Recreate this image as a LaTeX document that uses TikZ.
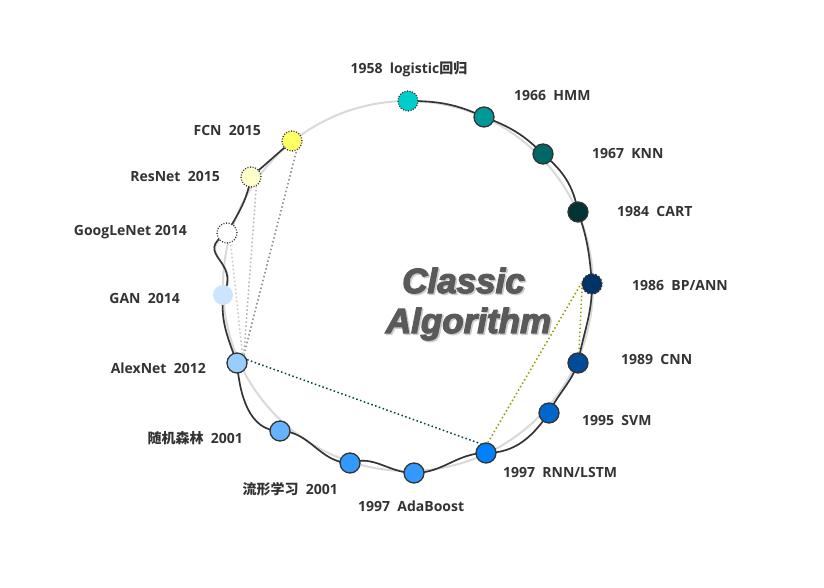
\documentclass[tikz,border=0pt]{standalone}
\usepackage{fontspec}
\newfontfamily\labfont{Open Sans}
\newfontfamily\cjkfont{Noto Sans CJK SC}
\newfontfamily\ttlfont{Liberation Sans}[FakeBold=3.5]
\definecolor{dark}{HTML}{333333}
\definecolor{txt}{HTML}{333333}
\definecolor{ringc}{HTML}{D9D9D9}
\definecolor{c58}{HTML}{00CCCC}
\definecolor{c66}{HTML}{009999}
\definecolor{c67}{HTML}{006666}
\definecolor{c84}{HTML}{003333}
\definecolor{c86}{HTML}{003366}
\definecolor{c89}{HTML}{004C99}
\definecolor{c95}{HTML}{0066CC}
\definecolor{c97r}{HTML}{0080FF}
\definecolor{c97a}{HTML}{3399FF}
\definecolor{c01m}{HTML}{3399FF}
\definecolor{c01r}{HTML}{66B2FF}
\definecolor{c12}{HTML}{99CCFF}
\definecolor{c14n}{HTML}{CCE5FF}
\definecolor{c15r}{HTML}{FFFFCC}
\definecolor{c15f}{HTML}{FFFF66}
\definecolor{tealc}{HTML}{004444}
\definecolor{olivec}{HTML}{999900}
\definecolor{ttlc}{HTML}{5A5A5A}
\tikzset{
  evt/.style={circle, minimum size=20pt, inner sep=0pt, draw=dark, line width=1.3pt},
  dotborder/.style={dash pattern=on 1pt off 1.6pt},
  dotline/.style={line width=1.5pt, dash pattern=on 1.5pt off 2.5pt},
  lab/.style={font=\labfont\bfseries\fontsize{14}{16}\selectfont, text=txt, inner sep=0pt, anchor=west},
  labl/.style={lab, anchor=east},
  ttl/.style={font=\ttlfont\bfseries\itshape\fontsize{35}{40}\selectfont, inner sep=0pt, anchor=base},
  timeline/.style={line width=1.6pt}
}
\begin{document}
\begin{tikzpicture}[x=1pt,y=1pt]
\useasboundingbox (0,0) rectangle (824,588);
\fill[white] (0,0) rectangle (824,588);
% ring
\draw[ringc, line width=2pt] (408,302) circle (185);
% node coordinates
\coordinate (p58) at (408,487);
\coordinate (p66) at (484,471);
\coordinate (p67) at (543,434);
\coordinate (p84) at (578,376);
\coordinate (p86) at (592,304);
\coordinate (p89) at (578,225);
\coordinate (p95) at (549,175);
\coordinate (p97r) at (486,135);
\coordinate (p97a) at (414,115);
\coordinate (p01m) at (350,125);
\coordinate (p01r) at (280,157);
\coordinate (p12) at (237,225);
\coordinate (p14n) at (223,293);
\coordinate (p14g) at (227,355);
\coordinate (p15r) at (251,411);
\coordinate (p15f) at (292,447);
% timeline path (shadow + line)
\foreach \col/\sh in {black!22/1.6, dark/0} {
\draw[timeline, \col, shift={(\sh,-\sh)}]
  (p58) to[out=0,in=155] (p66) to[out=-20,in=135] (p67) to[out=-40,in=100] (p84)
  to[out=-70,in=95] (p86) to[out=-90,in=80] (p89) to[out=-110,in=65] (p95)
  to[out=-125,in=0] (p97r) to[out=180,in=0] (p97a) to[out=180,in=20] (p01m)
  to[out=180,in=0] (p01r) to[out=180,in=-85] (p12) to[out=110,in=-95] (p14n)
  .. controls (242,328) and (192,333) .. (p14g) to[out=60,in=-100] (p15r) -- (p15f);
}
% nodes
\node[evt, fill=c58, dotborder] (n58) at (p58) {};
\node[evt, fill=c66] (n66) at (p66) {};
\node[evt, fill=c67] (n67) at (p67) {};
\node[evt, fill=c84] (n84) at (p84) {};
\node[evt, fill=c86, dash pattern=on 2pt off 1.5pt] (n86) at (p86) {};
\node[evt, fill=c89] (n89) at (p89) {};
\node[evt, fill=c95] (n95) at (p95) {};
\node[evt, fill=c97r] (n97r) at (p97r) {};
\node[evt, fill=c97a] (n97a) at (p97a) {};
\node[evt, fill=c01m] (n01m) at (p01m) {};
\node[evt, fill=c01r] (n01r) at (p01r) {};
\node[evt, fill=c12] (n12) at (p12) {};
\node[evt, fill=c14n, draw=none] (n14n) at (p14n) {};
\node[evt, fill=white, dotborder] (n14g) at (p14g) {};
\node[evt, fill=c15r, dotborder] (n15r) at (p15r) {};
\node[evt, fill=c15f, dotborder] (n15f) at (p15f) {};
% dotted relations
\draw[dotline, black!45] (n12.50) -- (n15f.295);
\draw[dotline, black!30] (n12.50) -- (n15r.300);
\draw[dotline, black!22] (n12.60) -- (n14g.290);
\draw[dotline, tealc] (n12.18) -- (n97r.120);
\draw[dotline, olivec] (n97r.80) -- (n86.175);
\draw[dotline, olivec] (n86.200) -- (n89.85);
% labels
\node[lab, anchor=center] (l58) at (409,519) {1958\ \ logistic{\cjkfont 回归}};
\node[lab] (l66) at (514,492) {1966\ \ HMM};
\node[lab] (l67) at (592,434) {1967\ \ KNN};
\node[lab] (l84) at (617,376) {1984\ \ CART};
\node[lab] (l86) at (632,302) {1986\ \ BP/ANN};
\node[lab] (l89) at (621,228) {1989\ \ CNN};
\node[lab] (l95) at (582,167) {1995\ \ SVM};
\node[lab] (l97r) at (503,115) {1997\ \ RNN/LSTM};
\node[lab] (l97a) at (358,82) {1997\ \ AdaBoost};
\node[labl] (l01m) at (338,99) {{\cjkfont 流形学习}\ \ 2001};
\node[labl] (l01r) at (243,150) {{\cjkfont 随机森林}\ \ 2001};
\node[labl] (l12) at (206,220) {AlexNet\ \ 2012};
\node[labl] (l14n) at (180,290) {GAN\ \ 2014};
\node[labl] (l14g) at (187,356) {GoogLeNet 2014};
\node[labl] (l15r) at (220,411) {ResNet\ \ 2015};
\node[labl] (l15f) at (261,457) {FCN\ \ 2015};
% title
\node[ttl, text=black!20] at (465,293.5) {Classic};
\node[ttl, text=ttlc] (t1) at (463.5,295) {Classic};
\node[ttl, text=black!20] at (470,253.5) {Algorithm};
\node[ttl, text=ttlc] (t2) at (468.5,255) {Algorithm};
\end{tikzpicture}
\end{document}
